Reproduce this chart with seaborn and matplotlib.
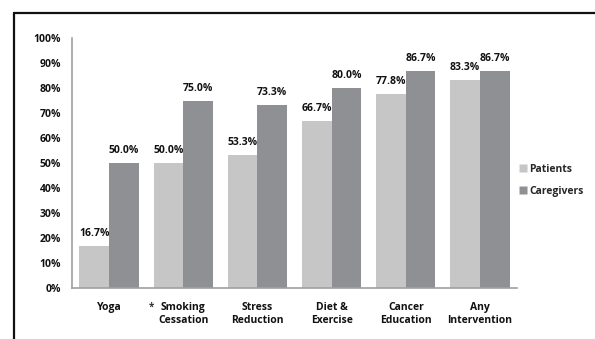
import matplotlib
matplotlib.use("Agg")
import matplotlib.pyplot as plt
import seaborn as sns
import pandas as pd
from matplotlib.lines import Line2D

categories = ["Yoga", "Smoking\nCessation", "Stress\nReduction", "Diet &\nExercise",
              "Cancer\nEducation", "Any\nIntervention"]
patients = [16.7, 50.0, 53.3, 66.7, 77.8, 83.3]
caregivers = [50.0, 75.0, 73.3, 80.0, 86.7, 86.7]
groups = ["Patients", "Caregivers"]
yticks = [0, 10, 20, 30, 40, 50, 60, 70, 80, 90, 100]

df = pd.DataFrame({
    "category": categories * 2,
    "group": [groups[0]] * len(categories) + [groups[1]] * len(categories),
    "value": patients + caregivers,
})

sns.set_theme(style="white")
plt.rcParams["font.family"] = ["Open Sans", "DejaVu Sans"]
plt.rcParams["font.weight"] = "bold"

FS = 7.5
fig = plt.figure(figsize=(5.95, 3.39), dpi=100)
ax = fig.add_axes([0.121, 0.150, 0.748, 0.738])

palette = {"Patients": "#c6c6c7", "Caregivers": "#8f9093"}
sns.barplot(data=df, x="category", y="value", hue="group", palette=palette,
            order=categories, hue_order=groups, width=0.8, saturation=1,
            ax=ax, legend=False, edgecolor="none")

ax.set_ylim(0, 100)
ax.set_xlim(-0.5, len(categories) - 0.5)
ax.set_yticks(yticks)
ax.set_yticklabels([f"{t}%" for t in yticks], fontsize=FS, fontweight="bold", color="#111111")
ax.tick_params(axis="y", pad=8, length=0)
ax.tick_params(axis="x", pad=10, length=0)
ax.set_xticks(range(len(categories)))
ax.set_xticklabels(categories, fontsize=FS, fontweight="bold", color="#111111", linespacing=1.2)
ax.set_xlabel("")
ax.set_ylabel("")

for s in ["top", "right"]:
    ax.spines[s].set_visible(False)
for s in ["left", "bottom"]:
    ax.spines[s].set_color("#a0a0a0")
    ax.spines[s].set_linewidth(1.2)

for cont in ax.containers:
    ax.bar_label(cont, labels=[f"{v:.1f}%" for v in cont.datavalues], padding=5,
                 fontsize=FS, fontweight="bold", color="#111111")

# asterisk before Smoking Cessation
ax.annotate("*", xy=(1, 0), xycoords=("data", "axes fraction"),
            xytext=(-23, -14), textcoords="offset points", ha="center", va="center",
            fontsize=7, fontweight="bold", color="#333333")

handles = [Line2D([0], [0], marker="s", linestyle="none", markersize=6,
                  markerfacecolor=palette[g], markeredgecolor="none") for g in groups]
fig.legend(handles, groups, loc="center left", bbox_to_anchor=(0.853, 0.468),
           frameon=False, prop={"weight": "bold", "size": FS},
           handletextpad=0.0, labelspacing=1.0, handlelength=1.2)

# outer frame lines (top and left)
fig.add_artist(Line2D([14 / 595, 1], [1 - 13 / 339, 1 - 13 / 339], color="#111111", lw=1.6,
                      transform=fig.transFigure))
fig.add_artist(Line2D([14 / 595, 14 / 595], [0, 1 - 13 / 339], color="#111111", lw=1.6,
                      transform=fig.transFigure))

fig.savefig("out.png", dpi=100, facecolor="white")
